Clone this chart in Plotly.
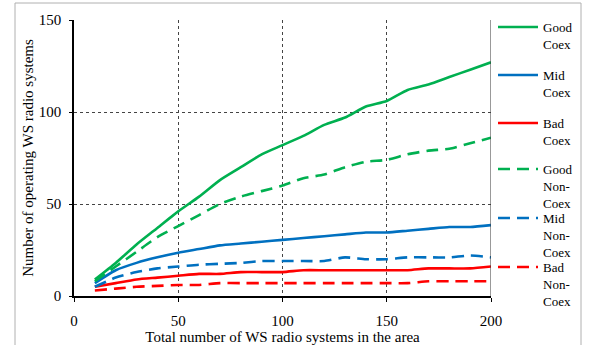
import plotly.graph_objects as go

x_systems = list(range(10, 201, 10))

good_coex = [9, 18, 28, 37, 46, 54, 63, 70, 77, 82, 87, 93, 97, 103, 106, 112, 115, 119, 123, 127]
mid_coex = [7, 14, 18, 21, 23.5, 25.5, 27.5, 28.5, 29.5, 30.5, 31.5, 32.5, 33.5, 34.5, 34.5, 35.5, 36.5, 37.5, 37.5, 38.5]
bad_coex = [5, 7, 9, 10, 11, 12, 12, 13, 13, 13, 14, 14, 14, 14, 14, 14, 15, 15, 15, 16]
good_noncoex = [8, 16, 24, 32, 38, 44, 50, 54, 57, 60, 64, 66, 70, 73, 74, 77, 79, 80, 83, 86]
mid_noncoex = [5, 10, 13, 15, 16, 17, 17.5, 18, 19, 19, 19, 19, 21, 20, 20, 21, 21, 21, 22, 21]
bad_noncoex = [3, 4, 5, 5.5, 6, 6, 7, 7, 7, 7, 7, 7, 7, 7, 7, 7, 8, 8, 8, 8]

series_names = ["Good<br>Coex", "Mid<br>Coex", "Bad<br>Coex",
                "Good<br>Non-<br>Coex", "Mid<br>Non-<br>Coex", "Bad<br>Non-<br>Coex"]
series_values = [good_coex, mid_coex, bad_coex, good_noncoex, mid_noncoex, bad_noncoex]
colors = ["#00B050", "#0070C0", "#FF0000", "#00B050", "#0070C0", "#FF0000"]
dashes = ["solid", "solid", "solid", "12px,7px", "12px,7px", "12px,7px"]

FONT = "Liberation Serif"

W, H = 592, 345
L, R, T, B = 74, 101, 20, 49
pw, ph = W - L - R, H - T - B

def px_x(px):
    return (px - L) / pw

def px_y(py):
    return (H - B - py) / ph

fig = go.Figure()
legend_tops = [27, 75, 123, 169, 218, 267]
for i, (name, vals, c, d) in enumerate(zip(series_names, series_values, colors, dashes)):
    lg = "legend" if i == 0 else f"legend{i+1}"
    fig.add_trace(go.Scatter(
        x=x_systems, y=vals, name=name, mode="lines",
        line=dict(color=c, width=2.6, dash=d, shape="spline", smoothing=0.6),
        legend=lg,
    ))

legend_cfg = {}
for i, yc in enumerate(legend_tops):
    key = "legend" if i == 0 else f"legend{i+1}"
    legend_cfg[key] = dict(
        x=px_x(493), xanchor="left",
        y=px_y(yc - 15), yanchor="top",
        valign="top",
        font=dict(family=FONT, size=13, color="#000"),
        bgcolor="rgba(0,0,0,0)", borderwidth=0,
        itemwidth=40,
    )

fig.update_layout(
    width=W, height=H,
    margin=dict(l=L, r=R, t=T, b=B, autoexpand=False),
    paper_bgcolor="white", plot_bgcolor="white",
    font=dict(family=FONT, size=15, color="#000"),
    showlegend=True,
    xaxis=dict(
        range=[0, 200], tickvals=[0, 50, 100, 150, 200],
        showgrid=True, gridcolor="#444", griddash="dot", gridwidth=1,
        showline=True, linecolor="#000", linewidth=1.5,
        ticks="outside", ticklen=4, tickcolor="#000",
        zeroline=False, automargin=False,
        ticklabelstandoff=6,
        title=dict(text="Total number of WS radio systems in the area",
                   font=dict(family=FONT, size=15), standoff=5),
        tickfont=dict(family=FONT, size=15),
    ),
    yaxis=dict(
        range=[0, 150], tickvals=[0, 50, 100, 150],
        showgrid=True, gridcolor="#444", griddash="dot", gridwidth=1,
        showline=True, linecolor="#000", linewidth=1.5,
        ticks="outside", ticklen=3, tickcolor="#000",
        zeroline=False, automargin=False,
        ticklabelstandoff=5,
        title=dict(text="Number of operating WS radio systems",
                   font=dict(family=FONT, size=15), standoff=2),
        tickfont=dict(family=FONT, size=15),
    ),
    **legend_cfg,
)

# right border of plot area
fig.add_shape(type="line", xref="x", yref="paper", x0=200, x1=200, y0=0, y1=1,
              line=dict(color="#333", width=1))
# outer frame
frame = dict(color="#b0b0b0", width=1)
fig.add_shape(type="line", xref="paper", yref="paper",
              x0=px_x(15), x1=px_x(581), y0=px_y(3), y1=px_y(3), line=frame)
fig.add_shape(type="line", xref="paper", yref="paper",
              x0=px_x(15), x1=px_x(15), y0=px_y(3), y1=px_y(350), line=frame)
fig.add_shape(type="line", xref="paper", yref="paper",
              x0=px_x(581), x1=px_x(581), y0=px_y(3), y1=px_y(350), line=frame)

fig.write_html("out.html")
